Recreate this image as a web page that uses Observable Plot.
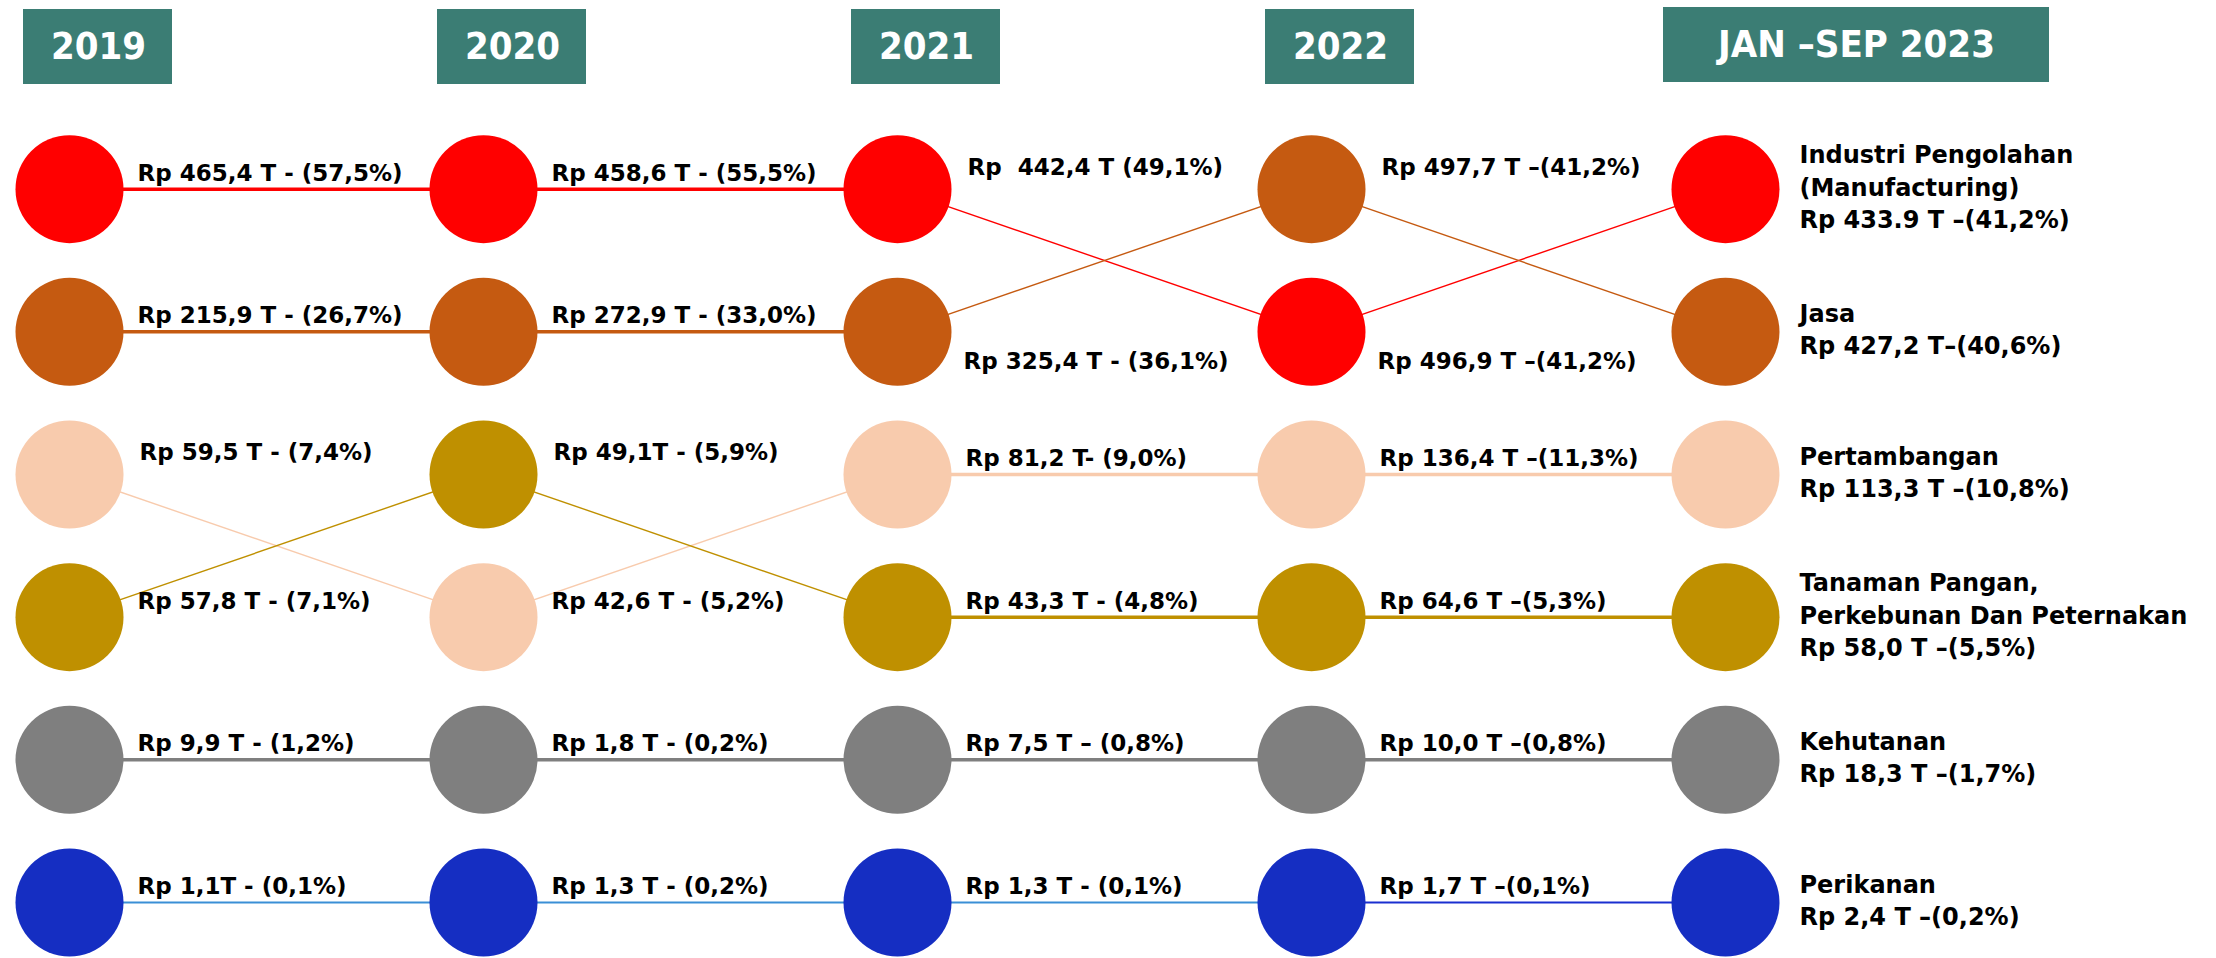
<!DOCTYPE html>
<html><head><meta charset="utf-8">
<script src="https://cdn.jsdelivr.net/npm/d3@7"></script>
<script src="https://cdn.jsdelivr.net/npm/@observablehq/plot@0.6"></script>
<style>
body{margin:0;background:#fff}
#chart svg{display:block}
</style>
</head><body><div id="chart"></div>
<script>
// ---- data ----
const years = ["2019", "2020", "2021", "2022", "JAN –SEP 2023"];
const sectors = ["Manufacturing", "Jasa", "Pertambangan", "Tanaman", "Kehutanan", "Perikanan"];
const sectorNames = [
  "Industri Pengolahan\n(Manufacturing)",
  "Jasa",
  "Pertambangan",
  "Tanaman Pangan,\nPerkebunan Dan Peternakan",
  "Kehutanan",
  "Perikanan"
];
// values in Rp trillion
const valManufacturing = [465.4, 458.6, 442.4, 496.9, 433.9];
const valJasa          = [215.9, 272.9, 325.4, 497.7, 427.2];
const valPertambangan  = [59.5, 42.6, 81.2, 136.4, 113.3];
const valTanaman       = [57.8, 49.1, 43.3, 64.6, 58.0];
const valKehutanan     = [9.9, 1.8, 7.5, 10.0, 18.3];
const valPerikanan     = [1.1, 1.3, 1.3, 1.7, 2.4];
// labels as printed
const lblManufacturing = ["Rp 465,4 T - (57,5%)", "Rp 458,6 T - (55,5%)", "Rp  442,4 T (49,1%)", "Rp 496,9 T –(41,2%)", "Rp 433.9 T –(41,2%)"];
const lblJasa          = ["Rp 215,9 T - (26,7%)", "Rp 272,9 T - (33,0%)", "Rp 325,4 T - (36,1%)", "Rp 497,7 T –(41,2%)", "Rp 427,2 T–(40,6%)"];
const lblPertambangan  = ["Rp 59,5 T - (7,4%)", "Rp 42,6 T - (5,2%)", "Rp 81,2 T- (9,0%)", "Rp 136,4 T –(11,3%)", "Rp 113,3 T –(10,8%)"];
const lblTanaman       = ["Rp 57,8 T - (7,1%)", "Rp 49,1T - (5,9%)", "Rp 43,3 T - (4,8%)", "Rp 64,6 T –(5,3%)", "Rp 58,0 T –(5,5%)"];
const lblKehutanan     = ["Rp 9,9 T - (1,2%)", "Rp 1,8 T - (0,2%)", "Rp 7,5 T – (0,8%)", "Rp 10,0 T –(0,8%)", "Rp 18,3 T –(1,7%)"];
const lblPerikanan     = ["Rp 1,1T - (0,1%)", "Rp 1,3 T - (0,2%)", "Rp 1,3 T - (0,1%)", "Rp 1,7 T –(0,1%)", "Rp 2,4 T –(0,2%)"];

// ---- styles ----
const dotColors  = ["#FF0000", "#C55A11", "#F8CBAD", "#BF9000", "#7F7F7F", "#152EC2"];
const lineColors = ["#FF0000", "#C55A11", "#F8CBAD", "#BF9000", "#7F7F7F", "#3A8FD6"];
const headerFill = "#3B7D74";
const FONT = "DejaVu Sans";
const HFONT = "DejaVu Sans Condensed, DejaVu Sans";

const valuesBySector = [valManufacturing, valJasa, valPertambangan, valTanaman, valKehutanan, valPerikanan];
const labelsBySector = [lblManufacturing, lblJasa, lblPertambangan, lblTanaman, lblKehutanan, lblPerikanan];

// rank per year from values
const points = [];
years.forEach((yr, j) => {
  const order = d3.sort(d3.range(sectors.length), i => -valuesBySector[i][j]);
  order.forEach((i, k) => points.push({
    year: yr, col: j, si: i, sector: sectors[i], rank: k + 1,
    value: valuesBySector[i][j], label: labelsBySector[i][j]
  }));
});
const pt = (si, j) => points.find(p => p.si === si && p.col === j);
points.forEach(p => { p.next = p.col < years.length - 1 ? pt(p.si, p.col + 1) : null; });

const segments = [];
sectors.forEach((s, si) => {
  for (let j = 0; j < years.length - 1; j++) {
    const a = pt(si, j), b = pt(si, j + 1);
    segments.push({si, x1: a.year, y1: a.rank, x2: b.year, y2: b.rank, flat: a.rank === b.rank, last: j === years.length - 2});
  }
});

const inner = points.filter(p => p.col < years.length - 1);
const lblBelow = inner.filter(p => p.next.rank < p.rank && p.rank <= 2);
const lblHigh  = inner.filter(p => p.next.rank > p.rank && !lblBelow.includes(p));
const lblStd   = inner.filter(p => !lblBelow.includes(p) && !lblHigh.includes(p));
const lastCol  = points.filter(p => p.col === years.length - 1);

const textOpts = {x: "year", y: "rank", text: "label", textAnchor: "start", lineAnchor: "middle",
  fontSize: 23, fontWeight: "bold", fill: "black", fontFamily: FONT};

const chart = Plot.plot({
  width: 2216, height: 958,
  marginTop: 0, marginBottom: 0, marginLeft: 0, marginRight: 0,
  style: {background: "#fff", fontFamily: FONT},
  x: {type: "point", domain: years, range: [68, 1725], padding: 0, axis: null},
  y: {type: "linear", domain: [0, 6], range: [46, 902], axis: null},
  color: {type: "identity"},
  marks: [
    // header boxes
    Plot.rect(years.slice(0, 4), {x1: d => d, x2: d => d, y1: () => 0, y2: () => 0,
      insetLeft: -46, insetRight: -103, insetTop: -37, insetBottom: -38, fill: headerFill}),
    Plot.rect(years.slice(4), {x1: d => d, x2: d => d, y1: () => 0, y2: () => 0,
      insetLeft: -62, insetRight: -324, insetTop: -39, insetBottom: -36, fill: headerFill}),
    Plot.text(years.slice(0, 4), {x: d => d, y: () => 0, text: d => d, dx: 29, dy: 0,
      fill: "white", fontSize: 38, fontWeight: "bold", fontFamily: HFONT}),
    Plot.text(years.slice(4), {x: d => d, y: () => 0, text: d => d, dx: 131, dy: -2,
      fill: "white", fontSize: 38, fontWeight: "bold", fontFamily: HFONT}),
    // connecting lines
    Plot.link(segments, {x1: "x1", y1: "y1", x2: "x2", y2: "y2",
      stroke: d => (d.si === 5 && d.last) ? "#1A2FD0" : lineColors[d.si],
      strokeWidth: d => d.flat ? (d.si === 5 ? 2 : 3.5) : 1.4}),
    // circles
    Plot.dot(points, {x: "year", y: "rank", r: 54, fill: d => dotColors[d.si], stroke: null}),
    // value labels
    Plot.text(lblStd,   {...textOpts, dx: 68, dy: -16}),
    Plot.text(lblHigh,  {...textOpts, dx: 70, dy: -22}),
    Plot.text(lblBelow, {...textOpts, dx: 66, dy: 30}),
    Plot.text(lastCol,  {...textOpts, fontSize: 24, text: d => sectorNames[d.si] + "\n" + d.label, dx: 74, dy: -4, lineHeight: 1.35})
  ]
});
document.getElementById("chart").append(chart);
</script>
</body></html>
